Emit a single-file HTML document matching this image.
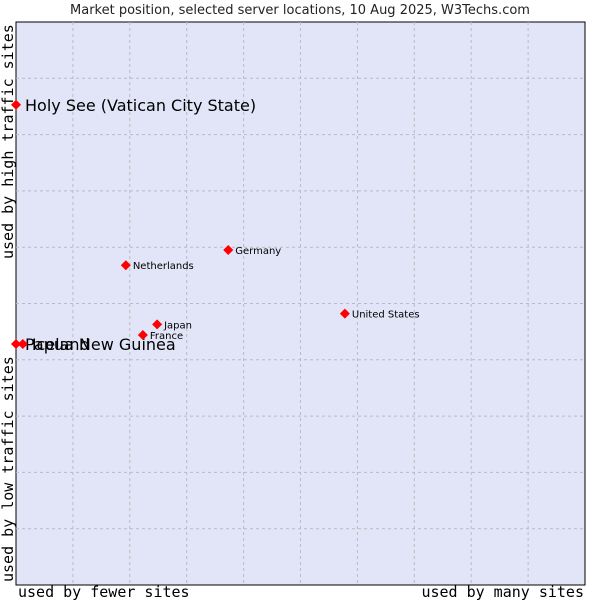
<!DOCTYPE html>
<html><head><meta charset="utf-8"><style>
body{margin:0;background:#fff;}
svg{display:block;}
</style></head><body>
<svg id="chart" width="600" height="600" xmlns="http://www.w3.org/2000/svg">
<text x="300" y="14" text-anchor="middle" font-family="DejaVu Sans, sans-serif" font-size="13" fill="#222">Market position, selected server locations, 10 Aug 2025, W3Techs.com</text>
<rect x="16" y="22" width="569" height="563" fill="#e2e4f8" stroke="#000" stroke-width="1"/>
<g id="grid"></g>
<text x="18" y="597" font-family="DejaVu Sans Mono, monospace" font-size="15" fill="#000">used by fewer sites</text>
<text x="584" y="597" text-anchor="end" font-family="DejaVu Sans Mono, monospace" font-size="15" fill="#000">used by many sites</text>
<text transform="translate(13,582) rotate(-90)" font-family="DejaVu Sans Mono, monospace" font-size="15" fill="#000">used by low traffic sites</text>
<text transform="translate(13,259) rotate(-90)" font-family="DejaVu Sans Mono, monospace" font-size="15" fill="#000">used by high traffic sites</text>
<g id="points"></g>
</svg>
<script>
const countries = ["Holy See (Vatican City State)","Papua New Guinea","Iceland","Netherlands","Germany","Japan","France","United States"];
const xValues = [0, 0, 1.2, 19.3, 37.3, 24.8, 22.3, 57.8];
const yValues = [85.3, 42.8, 42.8, 56.8, 59.5, 46.3, 44.4, 48.2];
const bigLabel = [true, true, true, false, false, false, false, false];

const X0=16, X1=585, Y0=585, Y1=22;
const sx = v => X0 + v/100*(X1-X0);
const sy = v => Y0 - v/100*(Y0-Y1);
const NS="http://www.w3.org/2000/svg";
const grid=document.getElementById('grid');
for(let i=1;i<10;i++){
  const gx=document.createElementNS(NS,'line');
  gx.setAttribute('x1',sx(i*10));gx.setAttribute('x2',sx(i*10));gx.setAttribute('y1',Y1);gx.setAttribute('y2',Y0);
  gx.setAttribute('stroke','#bbb');gx.setAttribute('stroke-dasharray','3,3');
  
  
  grid.appendChild(gx);
  const gy=document.createElementNS(NS,'line');
  gy.setAttribute('y1',sy(i*10));gy.setAttribute('y2',sy(i*10));gy.setAttribute('x1',X0);gy.setAttribute('x2',X1);
  gy.setAttribute('stroke','#bbb');gy.setAttribute('stroke-dasharray','3,3');
  
  
  grid.appendChild(gy);
}
const pts=document.getElementById('points');
countries.forEach((c,i)=>{
  const x=sx(xValues[i]), y=sy(yValues[i]);
  const d=document.createElementNS(NS,'path');
  d.setAttribute('d',`M${x-5},${y} L${x},${y-5} L${x+5},${y} L${x},${y+5} Z`);
  d.setAttribute('fill','#f00');
  
  
  pts.appendChild(d);
  const t=document.createElementNS(NS,'text');
  t.setAttribute('x',x+(bigLabel[i]?9:7));
  t.setAttribute('y',y+(bigLabel[i]?6:4));
  t.setAttribute('font-family','DejaVu Sans, sans-serif');
  t.setAttribute('font-size',bigLabel[i]?'16':'10');
  t.setAttribute('fill','#000');
  t.textContent=c;
  
  
  pts.appendChild(t);
});
</script>
</body></html>
